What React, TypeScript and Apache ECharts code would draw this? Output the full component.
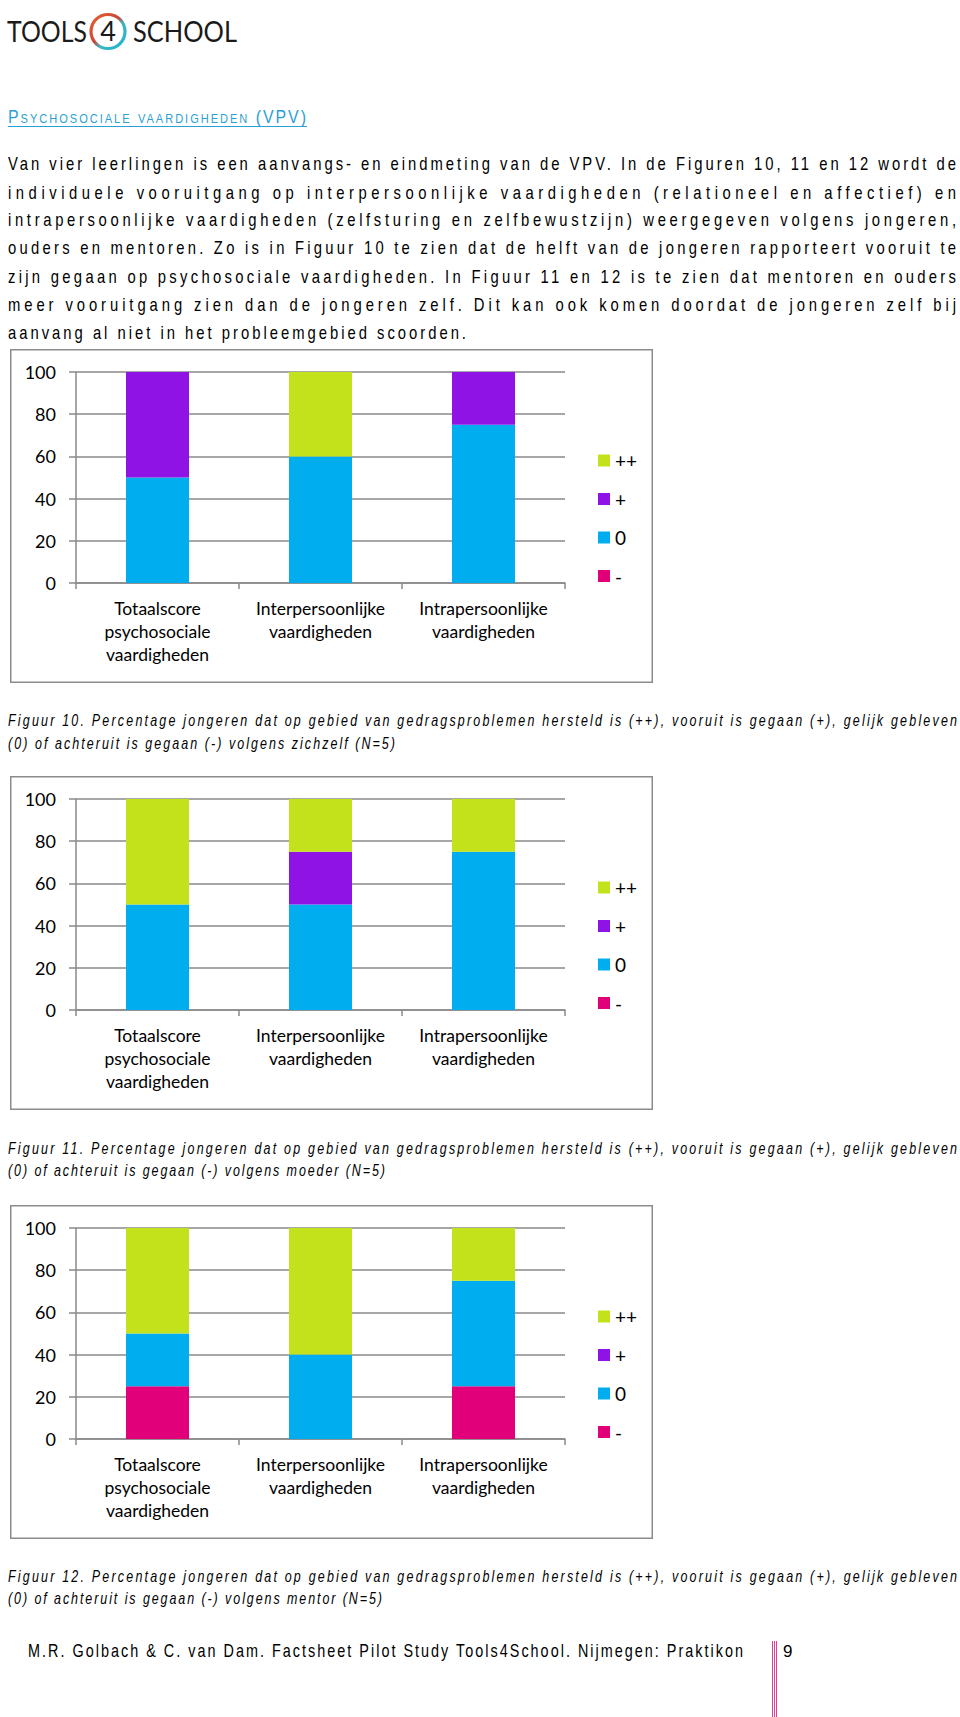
import React, { useEffect, useRef } from "react";
import * as echarts from "echarts";

const categories = [
  "Totaalscore\npsychosociale\nvaardigheden",
  "Interpersoonlijke\nvaardigheden",
  "Intrapersoonlijke\nvaardigheden",
];
const seriesNames = ["-", "0", "+", "++"];
const legendOrder = ["++", "+", "0", "-"];
const seriesColors = ["#e2007a", "#00aeef", "#9013e6", "#c3e21b"];
const yTicks = [0, 20, 40, 60, 80, 100];

// Figuur 10 (zichzelf)
const fig10Min = [0, 0, 0];
const fig10Zero = [50, 60, 75];
const fig10Plus = [50, 0, 25];
const fig10PlusPlus = [0, 40, 0];

// Figuur 11 (moeder)
const fig11Min = [0, 0, 0];
const fig11Zero = [50, 50, 75];
const fig11Plus = [0, 25, 0];
const fig11PlusPlus = [50, 25, 25];

// Figuur 12 (mentor)
const fig12Min = [25, 0, 25];
const fig12Zero = [25, 40, 50];
const fig12Plus = [0, 0, 0];
const fig12PlusPlus = [50, 60, 25];

const paragraphLines = [
  "Van vier leerlingen is een aanvangs- en eindmeting van de VPV. In de Figuren 10, 11 en 12 wordt de",
  "individuele vooruitgang op interpersoonlijke vaardigheden (relationeel en affectief) en",
  "intrapersoonlijke vaardigheden (zelfsturing en zelfbewustzijn) weergegeven volgens jongeren,",
  "ouders en mentoren. Zo is in Figuur 10 te zien dat de helft van de jongeren rapporteert vooruit te",
  "zijn gegaan op psychosociale vaardigheden. In Figuur 11 en 12 is te zien dat mentoren en ouders",
  "meer vooruitgang zien dan de jongeren zelf. Dit kan ook komen doordat de jongeren zelf bij",
  "aanvang al niet in het probleemgebied scoorden.",
];

const captionFirst =
  "Percentage jongeren dat op gebied van gedragsproblemen hersteld is (++), vooruit is gegaan (+), gelijk gebleven";
const captionSecond = "(0) of achteruit is gegaan (-) volgens";

const PAGE_FONT = '"Liberation Sans", Arial, sans-serif';
const CHART_FONT = "Lato, 'Open Sans', sans-serif";

function BarChart({ top, values }: { top: number; values: number[][] }) {
  const ref = useRef<HTMLDivElement>(null);
  useEffect(() => {
    const chart = echarts.init(ref.current!, null, { renderer: "svg" });
    chart.setOption({
      animation: false,
      textStyle: { fontFamily: CHART_FONT },
      graphic: [
        {
          type: "rect",
          shape: { x: 0.75, y: 0.75, width: 641.5, height: 332.5 },
          style: { fill: "none", stroke: "#8c8c8c", lineWidth: 1.5 },
          silent: true,
        },
      ],
      legend: {
        orient: "vertical",
        left: 583,
        top: 97,
        itemWidth: 12,
        itemHeight: 12,
        itemGap: 19.5,
        icon: "rect",
        data: legendOrder,
        textStyle: { fontSize: 19, lineHeight: 18, color: "#000", fontFamily: CHART_FONT },
      },
      grid: { left: 66, top: 23, width: 489, height: 211, containLabel: false },
      xAxis: {
        type: "category",
        data: categories,
        axisLine: { lineStyle: { color: "#8a8a8a", width: 1.5 } },
        axisTick: { show: true, length: 6, lineStyle: { color: "#8a8a8a", width: 1.5 } },
        axisLabel: {
          color: "#000",
          fontSize: 17.5,
          lineHeight: 23,
          margin: 14,
          fontFamily: CHART_FONT,
          interval: 0,
        },
      },
      yAxis: {
        type: "value",
        min: yTicks[0],
        max: yTicks[yTicks.length - 1],
        interval: yTicks[1] - yTicks[0],
        axisLine: { show: true, lineStyle: { color: "#8a8a8a", width: 1.5 } },
        axisTick: { show: true, length: 7, lineStyle: { color: "#8a8a8a", width: 1.5 } },
        splitLine: { lineStyle: { color: "#8a8a8a", width: 1.5 } },
        axisLabel: { color: "#000", fontSize: 18, margin: 20, fontFamily: CHART_FONT },
      },
      series: seriesNames.map((name, i) => ({
        name,
        type: "bar",
        stack: "total",
        barWidth: 63,
        data: values[i],
        itemStyle: { color: seriesColors[i] },
      })),
    });
    return () => chart.dispose();
  }, []);
  return (
    <div
      ref={ref}
      style={{ position: "absolute", left: 10, top, width: 643, height: 334 }}
    />
  );
}

// One line of text stretched to an exact width (narrow glyphs, spaced letters)
function FitText({
  x,
  y,
  width,
  text,
  size,
  scale = 0.8,
  italic = false,
  fill = "#000",
}: {
  x: number;
  y: number;
  width: number;
  text: string;
  size: number;
  scale?: number;
  italic?: boolean;
  fill?: string;
}) {
  return (
    <g transform={`translate(${x},${y}) scale(${scale},1)`}>
      <text
        x={0}
        y={0}
        fontFamily={PAGE_FONT}
        fontSize={size}
        fontStyle={italic ? "italic" : "normal"}
        fill={fill}
        textLength={width / scale}
        lengthAdjust="spacing"
      >
        {text}
      </text>
    </g>
  );
}

const paraBaselines = [170, 199, 226, 254, 283, 311, 339];
const captionBaselines = [
  [726, 749],
  [1154, 1176],
  [1582, 1604],
];
const captionWho = ["zichzelf", "moeder", "mentor"];
const captionNums = [10, 11, 12];

function PageText() {
  return (
    <svg
      width={960}
      height={1717}
      style={{ position: "absolute", left: 0, top: 0, pointerEvents: "none" }}
    >
      <defs>
        <linearGradient id="ringGrad" x1="0" y1="0" x2="1" y2="1">
          <stop offset="0%" stopColor="#e8612c" />
          <stop offset="45%" stopColor="#c8463a" />
          <stop offset="60%" stopColor="#3bb6c2" />
          <stop offset="100%" stopColor="#21b2d0" />
        </linearGradient>
      </defs>
      {/* logo */}
      <text
        x={7}
        y={42}
        fontFamily="Lato, 'DejaVu Sans', sans-serif"
        fontSize={29}
        textLength={80}
        lengthAdjust="spacingAndGlyphs"
        fill="#1a1a1a"
      >
        TOOLS
      </text>
      <circle cx={108} cy={31.5} r={17} fill="none" stroke="url(#ringGrad)" strokeWidth={3.2} />
      <text
        x={108}
        y={41}
        textAnchor="middle"
        fontFamily="Lato, 'DejaVu Sans', sans-serif"
        fontSize={27}
        fill="#1a1a1a"
      >
        4
      </text>
      <text
        x={133}
        y={42}
        fontFamily="Lato, 'DejaVu Sans', sans-serif"
        fontSize={29}
        textLength={104}
        lengthAdjust="spacingAndGlyphs"
        fill="#1a1a1a"
      >
        SCHOOL
      </text>

      {/* heading */}
      <g transform="translate(8,123) scale(0.86,1)">
        <text
          x={0}
          y={0}
          fontFamily={PAGE_FONT}
          fontSize={18.5}
          style={{ fontVariant: "small-caps" }}
          fill="#2a9fd6"
          textLength={298 / 0.86}
          lengthAdjust="spacing"
        >
          Psychosociale vaardigheden (VPV)
        </text>
      </g>
      <line x1={8} x2={307} y1={126.5} y2={126.5} stroke="#2a9fd6" strokeWidth={1.2} />

      {/* paragraph */}
      {paragraphLines.map((line, i) => (
        <FitText
          key={i}
          x={8}
          y={paraBaselines[i]}
          width={i === paragraphLines.length - 1 ? 458 : 948}
          text={line}
          size={18.5}
          scale={0.8}
        />
      ))}

      {/* captions */}
      {captionBaselines.map((b, i) => (
        <g key={i}>
          <FitText
            x={8}
            y={b[0]}
            width={949}
            text={`Figuur ${captionNums[i]}. ${captionFirst}`}
            size={16}
            scale={0.78}
            italic
          />
          <FitText
            x={8}
            y={b[1]}
            width={i === 0 ? 387 : i === 1 ? 377 : 374}
            text={`${captionSecond} ${captionWho[i]} (N=5)`}
            size={16}
            scale={0.78}
            italic
          />
        </g>
      ))}

      {/* footer */}
      <FitText
        x={28}
        y={1657}
        width={715}
        text="M.R. Golbach & C. van Dam. Factsheet Pilot Study Tools4School. Nijmegen: Praktikon"
        size={18}
        scale={0.8}
      />
      {[772.5, 774.5, 776.5].map((x) => (
        <line key={x} x1={x} x2={x} y1={1641} y2={1717} stroke="#e0409a" strokeWidth={1} />
      ))}
      <text x={783} y={1657} fontFamily={PAGE_FONT} fontSize={17} fill="#000">
        9
      </text>
    </svg>
  );
}

export default function App() {
  return (
    <div
      style={{
        position: "absolute",
        left: 0,
        top: 0,
        width: 960,
        height: 1717,
        background: "#fff",
        overflow: "hidden",
      }}
    >
      <BarChart top={349} values={[fig10Min, fig10Zero, fig10Plus, fig10PlusPlus]} />
      <BarChart top={776} values={[fig11Min, fig11Zero, fig11Plus, fig11PlusPlus]} />
      <BarChart top={1205} values={[fig12Min, fig12Zero, fig12Plus, fig12PlusPlus]} />
      <PageText />
    </div>
  );
}
